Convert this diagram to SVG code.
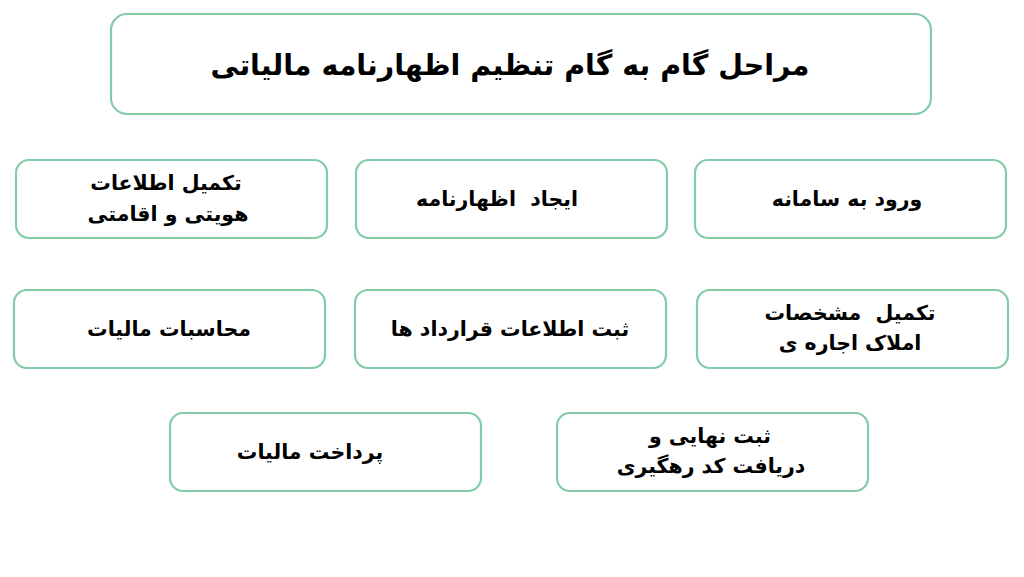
<svg xmlns="http://www.w3.org/2000/svg" width="1024" height="577" viewBox="0 0 1024 577">
<style>
.box{fill:#ffffff;stroke:#82cca7;stroke-width:2.2}
.t{font-family:"DejaVu Sans","Noto Sans",sans-serif;font-weight:bold;font-size:20.5px;fill:#000;text-anchor:middle;direction:rtl;white-space:pre}
.title{font-size:28.5px}
</style>
<rect width="1024" height="577" fill="#ffffff"/>
<g id="title"><rect class="box" x="111" y="14" width="820" height="100" rx="16"/><text class="t title" x="510" y="75">مراحل گام به گام تنظیم اظهارنامه مالیاتی</text></g>
<g id="connectors"></g>
<g id="n1"><rect class="box" x="695" y="160" width="311" height="78" rx="13"/><text class="t" x="847" y="206">ورود به سامانه</text></g>
<g id="n2"><rect class="box" x="356" y="160" width="311" height="78" rx="13"/><text class="t" x="497" y="206">ایجاد  اظهارنامه</text></g>
<g id="n3"><rect class="box" x="16" y="160" width="311" height="78" rx="13"/><text class="t" x="166" y="190">تکمیل اطلاعات</text><text class="t" x="168" y="221">هویتی و اقامتی</text></g>
<g id="n4"><rect class="box" x="697" y="290" width="311" height="78" rx="13"/><text class="t" x="850" y="320">تکمیل  مشخصات</text><text class="t" x="850" y="350">املاک اجاره ی</text></g>
<g id="n5"><rect class="box" x="355" y="290" width="311" height="78" rx="13"/><text class="t" x="510" y="336">ثبت اطلاعات قرارداد ها</text></g>
<g id="n6"><rect class="box" x="14" y="290" width="311" height="78" rx="13"/><text class="t" x="169" y="336">محاسبات مالیات</text></g>
<g id="n7"><rect class="box" x="557" y="413" width="311" height="78" rx="13"/><text class="t" x="710" y="443">ثبت نهایی و</text><text class="t" x="711" y="473">دریافت کد رهگیری</text></g>
<g id="n8"><rect class="box" x="170" y="413" width="311" height="78" rx="13"/><text class="t" x="310" y="459">پرداخت مالیات</text></g>
</svg>
